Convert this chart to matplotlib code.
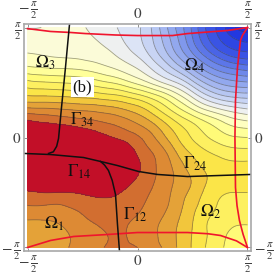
import matplotlib
matplotlib.use("Agg")
import matplotlib.pyplot as plt
import matplotlib.tri as mtri
import numpy as np
from matplotlib.colors import ListedColormap, BoundaryNorm

plt.rcParams['mathtext.fontset'] = 'stix'
plt.rcParams['font.family'] = 'Liberation Serif'

# grid in units of pi/2, one list per row, top row first
grid_x = np.linspace(-1, 1, 17)
grid_y = np.linspace(1, -1, 17)
rows = [
    [-0.1, 0.0, 0.15, 0.2, 0.1, -0.4, -0.8, -1.2, -1.8, -3.0, -4.7, -6.4, -8.2, -10.1, -11.4, -12.9, -13.5],
    [0.5, 0.5, 0.55, 0.55, 0.4, 0.05, -0.4, -1.0, -1.7, -2.8, -4.3, -6.0, -7.85, -9.6, -10.9, -11.75, -12.1],
    [1.1, 1.0, 0.9, 0.85, 0.75, 0.55, 0.2, -0.4, -1.1, -2.2, -3.6, -5.2, -6.8, -8.3, -9.5, -10.3, -10.6],
    [2.3, 2.15, 2.05, 2.0, 1.85, 1.55, 1.15, 0.65, 0.0, -1.0, -2.2, -3.5, -5.0, -6.4, -7.4, -8.0, -8.35],
    [4.3, 4.1, 4.0, 3.9, 3.75, 3.4, 3.0, 2.45, 1.7, 0.8, -0.2, -1.2, -2.7, -4.2, -5.2, -5.7, -5.9],
    [6.1, 6.05, 6.0, 5.9, 5.75, 5.6, 5.35, 5.0, 4.4, 3.6, 2.6, 1.3, -0.2, -1.7, -2.7, -3.2, -3.4],
    [8.4, 8.3, 8.2, 8.05, 7.9, 7.75, 7.5, 7.1, 6.55, 5.65, 4.5, 3.3, 2.1, 1.0, 0.2, -0.4, -0.8],
    [10.4, 10.15, 10.0, 9.8, 9.55, 9.3, 9.0, 8.6, 8.0, 7.2, 6.1, 5.0, 4.1, 3.2, 2.4, 1.7, 1.4],
    [11.2, 11.3, 11.4, 11.3, 11.0, 10.6, 10.1, 9.7, 9.15, 8.3, 7.1, 5.9, 4.9, 4.1, 3.5, 3.1, 3.0],
    [11.8, 12.0, 12.0, 12.0, 12.0, 11.8, 11.3, 10.8, 9.8, 9.0, 8.05, 6.7, 5.75, 5.05, 4.6, 4.3, 4.25],
    [11.6, 11.8, 12.0, 12.0, 12.0, 12.0, 11.6, 11.0, 10.2, 9.3, 8.45, 7.4, 6.4, 5.7, 5.35, 5.2, 5.2],
    [10.8, 11.0, 11.0, 11.0, 10.9, 11.0, 11.0, 10.6, 9.9, 9.2, 8.5, 7.7, 6.9, 6.05, 5.5, 5.35, 5.3],
    [9.9, 10.0, 10.0, 10.0, 10.1, 10.2, 10.2, 9.9, 9.45, 8.95, 8.35, 7.5, 6.7, 5.75, 5.15, 5.0, 5.0],
    [8.95, 8.95, 8.85, 9.05, 9.3, 9.65, 9.75, 9.55, 9.2, 8.7, 8.15, 7.3, 6.3, 5.5, 4.85, 4.6, 4.6],
    [8.0, 8.0, 8.1, 8.5, 8.85, 9.15, 9.35, 9.2, 8.85, 8.4, 7.8, 7.0, 6.05, 5.1, 4.6, 4.3, 4.2],
    [7.4, 7.4, 7.5, 8.0, 8.45, 8.8, 9.05, 9.05, 8.7, 8.3, 7.6, 6.85, 5.95, 5.05, 4.4, 3.7, 3.6],
    [7.3, 7.35, 7.5, 8.0, 8.4, 8.8, 9.1, 9.1, 9.0, 8.4, 7.85, 6.85, 5.9, 4.95, 4.2, 3.5, 3.1],
]

levels = list(range(-15, 11)) + [15]
band_colors = ["#1c32dc", "#1c32dc", "#2238e0", "#2e46e2", "#3a54e4", "#4a64e6", "#5c76e8", "#6e88ea", "#8098ec",
               "#92a8ee", "#a4b6f0", "#b6c6f2", "#c8d4f4", "#dce4f6", "#eef0f0", "#fbfbd8", "#ffffc0",
               "#ffff9a", "#fffb78", "#fdf060", "#fbe548", "#f2c63c", "#e4a238", "#dd8a34", "#d26e30",
               "#c20f28"]

# curves, in units of pi/2
red_top_x = [-1, -0.79, -0.61, -0.473, -0.2, 0, 0.318, 0.455, 0.818, 1]
red_top_y = [0.99, 0.964, 0.955, 0.945, 0.932, 0.927, 0.927, 0.945, 0.973, 1]
red_right_x = [1, 0.955, 0.936, 0.909, 0.891, 0.886, 0.891, 0.905, 0.927, 0.96, 1]
red_right_y = [1, 0.93, 0.882, 0.636, 0.336, 0, -0.455, -0.62, -0.755, -0.88, -1]
red_bottom_x = [-1, -0.79, -0.58, -0.273, 0, 0.455, 0.64, 0.755, 0.9, 1]
red_bottom_y = [-1, -0.936, -0.9, -0.882, -0.864, -0.864, -0.875, -0.891, -0.94, -1]
black_h_x = [-1.032, -0.79, -0.49, -0.336, -0.182, 0.009, 0.182, 0.455, 1.032]
black_h_y = [-0.145, -0.155, -0.182, -0.218, -0.255, -0.309, -0.336, -0.355, -0.336]
black_up_x = [-0.618, -0.655, -0.691, -0.718, -0.735, -0.765, -0.809]
black_up_y = [1.032, 0.636, 0.273, -0.009, -0.08, -0.13, -0.145]
black_down_x = [-0.336, -0.3, -0.264, -0.23, -0.2, -0.182, -0.164]
black_down_y = [-0.218, -0.25, -0.3, -0.39, -0.518, -0.791, -1.032]

region_labels = [r"$\Omega_3$", r"$\Omega_4$", r"$\Omega_1$", r"$\Omega_2$",
                 r"$\Gamma_{34}$", r"$\Gamma_{14}$", r"$\Gamma_{24}$", r"$\Gamma_{12}$"]
region_x = [-0.84, 0.52, -0.755, 0.665, -0.5, -0.535, 0.525, -0.02]
region_y = [0.675, 0.655, -0.785, -0.68, 0.165, -0.31, -0.235, -0.70]

Z = np.array(rows)

fig = plt.figure(figsize=(2.75, 2.75), dpi=100)
ax = fig.add_axes([24 / 275, 24 / 275, 227 / 275, 227 / 275])

# matplotlib's own refiner, so the contours come out round
gx, gy = np.meshgrid(grid_x, grid_y)
tri = mtri.Triangulation(gx.ravel(), gy.ravel())
fine_tri, fine_z = mtri.UniformTriRefiner(tri).refine_field(Z.ravel(), subdiv=3)

cmap = ListedColormap(band_colors)
norm = BoundaryNorm(levels, cmap.N)
ax.tricontourf(fine_tri, fine_z, levels=levels, cmap=cmap, norm=norm)
ax.tricontour(fine_tri, fine_z, levels=levels[1:-1], colors="#404040", linewidths=0.6, alpha=0.5,
              linestyles="solid")

for cx, cy in [(red_top_x, red_top_y), (red_right_x, red_right_y), (red_bottom_x, red_bottom_y)]:
    ax.plot(cx, cy, color="#f0142d", lw=1.2)
for cx, cy in [(black_h_x, black_h_y), (black_up_x, black_up_y), (black_down_x, black_down_y)]:
    ax.plot(cx, cy, color="#101010", lw=1.1)

for lab, lx, ly in zip(region_labels, region_x, region_y):
    ax.text(lx, ly, lab, fontsize=12.5, ha="center", va="center", color="#101010")
ax.text(-0.5, 0.455, "(b)", fontsize=12, ha="center", va="center", color="#101010",
        bbox=dict(facecolor="white", edgecolor="none", pad=1.5))

ax.set_xlim(-1.032, 1.032)
ax.set_ylim(-1.032, 1.032)
ax.set_aspect("equal")
ticks = [-1, 0, 1]
xlabels = [r"$-\,\frac{\pi}{2}$", "$0$", r"$\frac{\pi}{2}$"]
ax.set_xticks(ticks, xlabels)
ax.set_yticks(ticks, xlabels)
ax.tick_params(top=True, right=True, labeltop=True, labelright=True, direction="in", length=2.5,
               width=0.6, color="#808080", labelsize=11, labelcolor="#404040", pad=2)
for s in ax.spines.values():
    s.set_color("#a8a8a8")
    s.set_linewidth(1.2)

fig.savefig("out.png", dpi=100)
